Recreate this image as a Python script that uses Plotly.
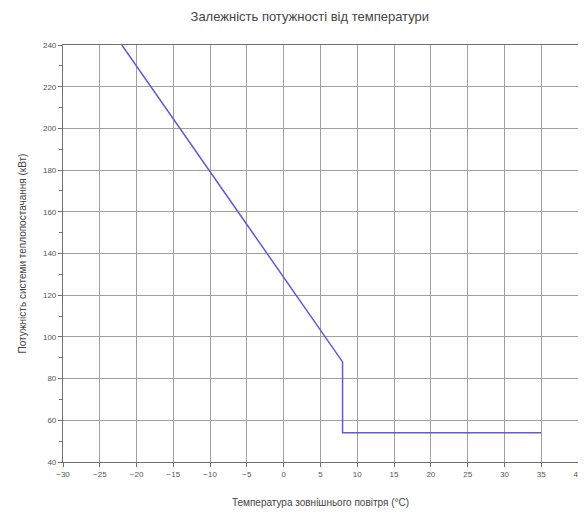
import plotly.graph_objects as go

temperature = [-22, 8, 8, 35]
power = [240, 88, 54, 54]

x_ticks = list(range(-30, 45, 5))
y_ticks = list(range(40, 260, 20))

title = "Залежність потужності від температури"
x_title = "Температура зовнішнього повітря (°C)"
y_title = "Потужність системи теплопостачання (кВт)"

fig = go.Figure()
fig.add_trace(go.Scatter(
    x=temperature, y=power, mode="lines",
    line=dict(color="#5c5cdc", width=1.5),
    showlegend=False, cliponaxis=True,
))

axis_common = dict(
    showgrid=True, gridcolor="#a0a0a0", gridwidth=1,
    showline=True, linecolor="#707070", linewidth=1.2, mirror=True,
    ticks="outside", ticklen=4, tickcolor="#707070",
    tickfont=dict(family="Liberation Sans, Arial", size=8, color="#555555"),
    zeroline=False,
)

fig.update_layout(
    width=586, height=513,
    margin=dict(l=55, r=11, t=37, b=59),
    paper_bgcolor="white", plot_bgcolor="white",
    title=dict(text=title, x=0.515, xanchor="center", y=0.984, yanchor="middle",
               font=dict(family="Liberation Sans, Arial", size=13, color="#444444")),
    xaxis=dict(range=[-30, 40], tickvals=x_ticks,
               title=dict(text=x_title, standoff=21,
                          font=dict(family="Liberation Sans, Arial", size=10, color="#444444")),
               **axis_common),
    yaxis=dict(range=[40, 240], tickvals=y_ticks,
               minor=dict(dtick=10, ticks="outside", ticklen=3, tickcolor="#707070", showgrid=False),
               title=dict(text=y_title, standoff=14,
                          font=dict(family="Liberation Sans, Arial", size=10, color="#444444")),
               **axis_common),
)

fig.write_html("out.html")
